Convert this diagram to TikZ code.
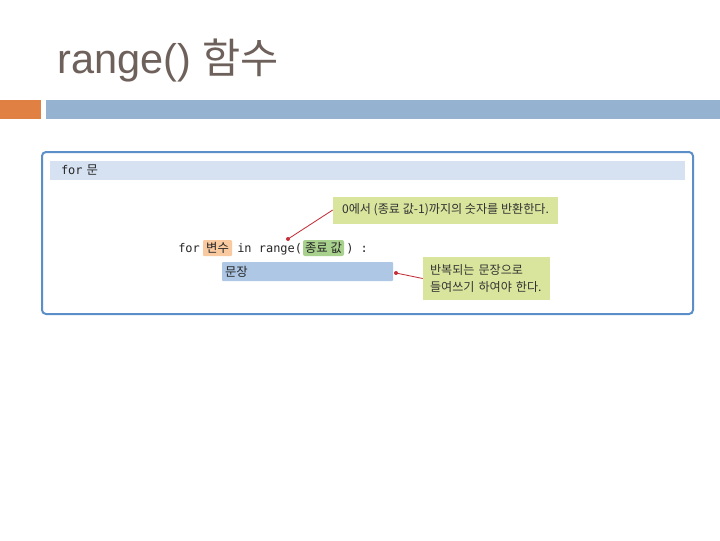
\documentclass[tikz,border=0pt]{standalone}
\usepackage{fontspec}
\setmainfont{Liberation Sans}
\newfontfamily\kr{Noto Sans CJK KR}
\newfontfamily\mono{DejaVu Sans Mono}
\definecolor{titlecol}{RGB}{110,96,90}
\definecolor{barorange}{RGB}{224,128,66}
\definecolor{barblue}{RGB}{149,179,209}
\definecolor{framecol}{RGB}{92,142,200}
\definecolor{headblue}{RGB}{214,225,241}
\definecolor{callgreen}{RGB}{217,228,156}
\definecolor{varorange}{RGB}{249,202,160}
\definecolor{valgreen}{RGB}{169,209,142}
\definecolor{stmtblue}{RGB}{173,199,229}
\definecolor{linered}{RGB}{196,48,58}
\begin{document}
\begin{tikzpicture}[x=0.025cm,y=-0.025cm]
	\def\px{0.025cm}
	\useasboundingbox (0,0)rectangle(720,540);
	\fill[white](0,0)rectangle(720,540);
	\tikzset{seolmyeong/.style={fill=callgreen,inner xsep=5*\px,inner ysep=0pt,align=left,text=black!80,font=\kr\fontsize{8.6}{12}\selectfont}}
	\tikzset{kansu/.style={inner sep=0pt,align=center,text=black!85,font=\kr\fontsize{8.8}{10}\selectfont}}
	\tikzset{kodu/.style={anchor=base west,inner sep=0pt,text=black!85,font=\mono\fontsize{8.5}{10}\selectfont}}
	% title and bars
	\node[anchor=base west,inner sep=0pt,text=titlecol,font=\fontsize{29.5}{34}\selectfont](title) at (57,73){range() {\kr 함수}};
	\fill[barorange](0,100)rectangle(41,119);
	\fill[barblue](46,100)rectangle(720,119);
	% frame
	\draw[framecol,line width=2*\px,rounded corners=4*\px](42,152)rectangle(693,314);
	\node[fill=headblue,minimum width=635*\px,minimum height=19*\px,text width=613*\px,inner xsep=11*\px,inner ysep=0pt,align=left,font=\kr\fontsize{8.8}{10}\selectfont,text=black!85](header) at (367.5,170.5){{\mono\fontsize{8.5}{10}\selectfont for} 문};
	% code line
	\node[kodu](for1) at (178,252){for};
	\node[kansu,fill=varorange,minimum width=29*\px,minimum height=16*\px,rounded corners=1*\px](byeonsu) at (217.5,248){변수};
	\node[kodu](inrange) at (237,252){in range(};
	\node[kansu,fill=valgreen,minimum width=41*\px,minimum height=16*\px,rounded corners=2*\px](jongryo) at (323.5,248){종료 값};
	\node[kodu](close) at (346,252){) :};
	\node[kansu,fill=stmtblue,minimum width=171*\px,minimum height=19*\px,text width=165*\px,align=left,rounded corners=1*\px](munjang) at (307.5,271.5){문장};
	% callouts
	\node[seolmyeong,minimum height=27*\px,minimum width=225*\px,inner xsep=2*\px,align=center](callA) at (445.5,210){0에서 (종료 값-1)까지의 숫자를 반환한다.};
	\node[seolmyeong,inner xsep=7*\px,minimum height=43*\px,text width=113*\px](callB) at (486.5,278.5){반복되는 문장으로\\들여쓰기 하여야 한다.};
	\coordinate(d1) at (288,239);
	\coordinate(d2) at (396,273);
	\draw[linered,line width=0.6pt](callA.west)--(d1) (callB.west)--(d2);
	\foreach \d in{d1,d2}
	\fill[linered](\d)circle(2);
\end{tikzpicture}
\end{document}
